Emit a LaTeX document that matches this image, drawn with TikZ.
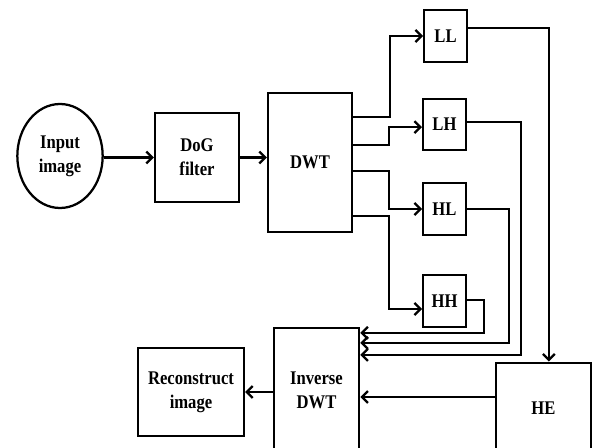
\documentclass[tikz,border=0pt]{standalone}
\usepackage{fontspec}
\setmainfont{Liberation Serif}
\newfontfamily\lblfont[FakeStretch=0.86]{Liberation Serif}
\usetikzlibrary{shapes.geometric}
\usetikzlibrary{arrows.meta}

\tikzset{
  blk/.style={draw,line width=1.7pt,align=center,inner sep=0pt,
    font=\lblfont\bfseries\fontsize{14.5}{18}\selectfont},
  arr/.style={line width=1.7pt,-{Straight Barb[length=4.5pt,width=9pt]}},
}

\begin{document}
\begin{tikzpicture}[x=0.75pt,y=-0.75pt]
\clip (0,0) rectangle (592,448);

% input chain
\node[blk,ellipse,minimum width=64pt,minimum height=78pt] (inp) at (60,156) {Input\\image};
\node[blk,minimum width=63pt,minimum height=67pt] (dog) at (197,157.5) {DoG\\filter};
\node[blk,minimum width=63pt,minimum height=104pt] (dwt) at (310,162.5) {DWT};

% sub bands
\node[blk,minimum width=32pt,minimum height=39pt] (ll) at (445.5,36) {LL};
\node[blk,minimum width=32pt,minimum height=38pt] (lh) at (444.5,124.5) {LH};
\node[blk,minimum width=32pt,minimum height=39pt] (hl) at (444.5,209) {HL};
\node[blk,minimum width=32pt,minimum height=39pt] (hh) at (444.5,301) {HH};

% output chain
\node[blk,minimum width=64pt,minimum height=93pt] (idwt) at (316.5,390) {Inverse\\DWT};
\node[blk,minimum width=71pt,minimum height=68pt] (he) at (543.5,408) {HE};
\node[blk,minimum width=79.5pt,minimum height=66pt] (rec) at (191,392) {Reconstruct\\image};

\draw[arr] (inp.east |- dog) -- (dog);
\draw[arr] (dog.east) -- (dog.east -| dwt.west);

% DWT to sub bands
\draw[arr] ([yshift=-18.75pt]dwt.north east) -- ++(27.75pt,0) |- (ll);
\draw[arr] ([yshift=-39.75pt]dwt.north east) -- ++(27pt,0) |- ([yshift=-2pt]lh.west);
\draw[arr] ([yshift=-59.25pt]dwt.north east) -- ++(27pt,0) |- (hl);
\draw[arr] ([yshift=-93pt]dwt.north east) -- ++(27pt,0) |- ([yshift=-6pt]hh.west);

% sub bands to HE and inverse DWT
\draw[arr] ([yshift=6pt]ll.east) -| ([xshift=4pt]he.north);
\draw[arr] ([yshift=2pt]lh.east) -- ++(40.5pt,0) |- ([yshift=-21pt]idwt.north east);
\draw[arr] (hl.east) -- ++(31.5pt,0) |- ([yshift=-12pt]idwt.north east);
\draw[arr] ([yshift=1pt]hh.east) -- ++(12.75pt,0) |- ([yshift=-4.5pt]idwt.north east);

\draw[arr] ([yshift=8.25pt]he.west) -- ([yshift=8.25pt]he.west -| idwt.east);
\draw[arr] (idwt.west |- rec) -- (rec);

\end{tikzpicture}
\end{document}
